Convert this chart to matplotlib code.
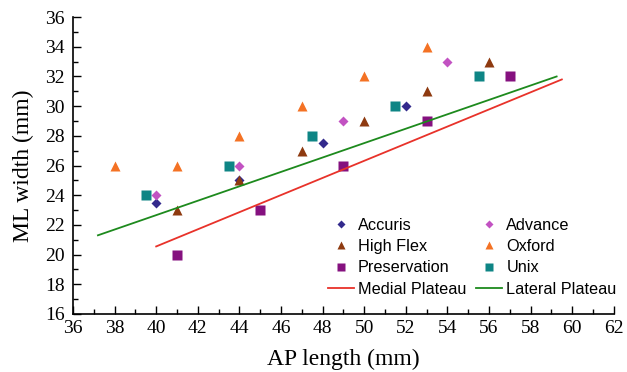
# ML width vs AP length for tibial components
import numpy as np
import matplotlib.pyplot as plt

plt.rcParams.update(plt.rcParamsDefault)

# data
accuris_x = [40, 44, 48, 52]
accuris_y = [23.5, 25, 27.5, 30]
advance_x = [40, 44, 49, 54]
advance_y = [24, 26, 29, 33]
highflex_x = [41, 44, 47, 50, 53, 56]
highflex_y = [23, 25, 27, 29, 31, 33]
oxford_x = [38, 41, 44, 47, 50, 53]
oxford_y = [26, 26, 28, 30, 32, 34]
preserv_x = [41, 45, 49, 53, 57]
preserv_y = [20, 23, 26, 29, 32]
unix_x = [39.5, 43.5, 47.5, 51.5, 55.5]
unix_y = [24, 26, 28, 30, 32]

medial_x = [40, 59.5]
medial_y = [20.55, 31.8]
lateral_x = [37.2, 59.25]
lateral_y = [21.3, 32.0]

serif = 'Liberation Serif'
sans = 'Liberation Sans'

fig = plt.figure(figsize=(6.27, 3.72), dpi=100)
ax = fig.add_axes([0.1164, 0.156, 0.8626, 0.798])

ax.plot(accuris_x, accuris_y, 'D', color='#332a8c', ms=5.5, mec='none', label='Accuris')
ax.plot(highflex_x, highflex_y, '^', color='#8e3a10', ms=7, mec='none', label='High Flex')
ax.plot(preserv_x, preserv_y, 's', color='#85117f', ms=6.5, mec='none', label='Preservation')
ax.plot(medial_x, medial_y, '-', color='#e8322a', lw=1.3, label='Medial Plateau')
ax.plot(advance_x, advance_y, 'D', color='#c252c2', ms=5.5, mec='none', label='Advance')
ax.plot(oxford_x, oxford_y, '^', color='#f47224', ms=7, mec='none', label='Oxford')
ax.plot(unix_x, unix_y, 's', color='#0e8585', ms=6.5, mec='none', label='Unix')
ax.plot(lateral_x, lateral_y, '-', color='#1d8a1d', lw=1.3, label='Lateral Plateau')

ax.set_xlim(36, 62)
ax.set_ylim(16, 36)
ax.set_xticks(np.arange(36, 63, 2))
ax.set_yticks(np.arange(16, 37, 2))
ax.set_xticks(np.arange(36, 63, 1), minor=True)
ax.set_yticks(np.arange(16, 37, 1), minor=True)

for s in ['top', 'right']:
    ax.spines[s].set_visible(False)
for s in ['left', 'bottom']:
    ax.spines[s].set_linewidth(1.2)

ax.tick_params(which='major', direction='in', length=6, width=1, labelsize=14)
ax.tick_params(axis='x', which='major', pad=4)
ax.tick_params(axis='y', which='major', pad=6)
ax.tick_params(which='minor', direction='in', length=3.5, width=1)
for lab in ax.get_xticklabels() + ax.get_yticklabels():
    lab.set_fontfamily(serif)

ax.set_xlabel('AP length (mm)', fontsize=17, fontfamily=serif, labelpad=9)
ax.set_ylabel('ML width (mm)', fontsize=17, fontfamily=serif, labelpad=8)

ax.legend(ncol=2, loc='lower right', bbox_to_anchor=(1.026, 0.02), frameon=False,
          prop={'family': sans, 'size': 11.7}, markerscale=0.8,
          handlelength=1.6, handletextpad=0.25,
          columnspacing=0.62, labelspacing=0.39, borderpad=0.2)

plt.savefig('out.png', dpi=100)
